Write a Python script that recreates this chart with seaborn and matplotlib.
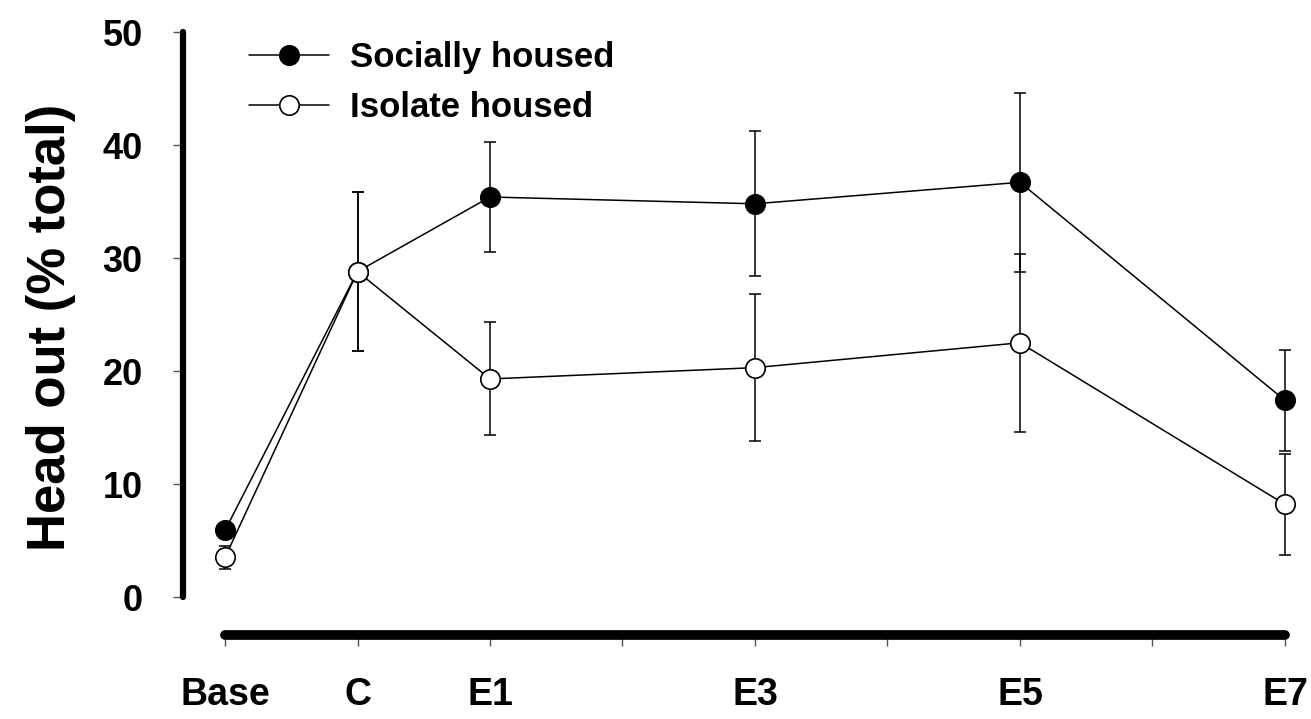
import numpy as np
import pandas as pd
import matplotlib
matplotlib.use("Agg")
import matplotlib.pyplot as plt
import seaborn as sns

# Data
sessions = ["Base", "C", "E1", "E3", "E5", "E7"]
session_pos = [0, 1, 2, 4, 6, 8]
social_mean = [5.9, 28.8, 35.4, 34.8, 36.7, 17.4]
social_err = [0.6, 7.0, 4.9, 6.4, 7.9, 4.5]
isolate_mean = [3.5, 28.8, 19.3, 20.3, 22.5, 8.2]
isolate_err = [1.0, 7.0, 5.0, 6.5, 7.9, 4.5]

tick_pos = list(range(9))
tick_labels = ["Base", "C", "E1", "", "E3", "", "E5", "", "E7"]

df = pd.DataFrame({
    "pos": session_pos * 2,
    "value": social_mean + isolate_mean,
    "err": social_err + isolate_err,
    "group": ["Socially housed"] * 6 + ["Isolate housed"] * 6,
})

sns.set_theme(style="ticks")
plt.rcParams["font.family"] = ["Liberation Sans", "DejaVu Sans"]
plt.rcParams["font.weight"] = "bold"
for key in ["text.color", "axes.labelcolor", "xtick.labelcolor", "ytick.labelcolor", "axes.edgecolor"]:
    plt.rcParams[key] = "black"

fig = plt.figure(figsize=(13.11, 7.19), dpi=100)
ax = fig.add_axes([0.1396, 0.1168, 0.8557, 0.8544])

styles = {
    "Socially housed": dict(markerfacecolor="black"),
    "Isolate housed": dict(markerfacecolor="white"),
}
for name in ["Socially housed", "Isolate housed"]:
    sub = df[df["group"] == name]
    ax.errorbar(sub["pos"], sub["value"], yerr=sub["err"], fmt="none",
                ecolor="black", elinewidth=1.1, capsize=4, capthick=1.1, zorder=2)
    sns.lineplot(data=sub, x="pos", y="value", ax=ax, color="black",
                 linewidth=1.1, marker="o", markersize=14,
                 markeredgecolor="black", markeredgewidth=1.2,
                 label=name, zorder=3, **styles[name])

ax.set_xlim(-0.317, 8.15)
ax.set_ylim(-3.36, 51)
ax.set_xticks(tick_pos)
ax.set_xticklabels(tick_labels, fontsize=27, fontweight="bold", color="black")
ax.set_yticks([0, 10, 20, 30, 40, 50])
ax.set_yticklabels(["0", "10", "20", "30", "40", "50"], fontsize=26, fontweight="bold", color="black")
ax.set_xlabel("")
ax.set_ylabel("Head out (% total)", fontsize=38, fontweight="bold", labelpad=19, color="black")

for s in ["top", "right"]:
    ax.spines[s].set_visible(False)
ax.spines["left"].set_linewidth(4.5)
ax.spines["left"].set_bounds(0, 50)
ax.spines["left"].set_color("black")
ax.spines["left"].set_capstyle("round")
ax.spines["bottom"].set_linewidth(7)
ax.spines["bottom"].set_bounds(0, 8)
ax.spines["bottom"].set_color("black")
ax.spines["bottom"].set_capstyle("round")
ax.tick_params(axis="y", length=7, width=1, color="#555555", pad=22)
ax.tick_params(axis="x", length=8, width=1, color="#555555", pad=22)

leg = ax.legend(loc="upper left", bbox_to_anchor=(0.0588, 0.967), frameon=False,
                borderaxespad=0, borderpad=0, handlelength=2.3, handletextpad=0.6,
                labelspacing=0.5, prop={"size": 25, "weight": "bold"})
for t in leg.get_texts():
    t.set_color("black")

fig.savefig("out.png", dpi=100)
